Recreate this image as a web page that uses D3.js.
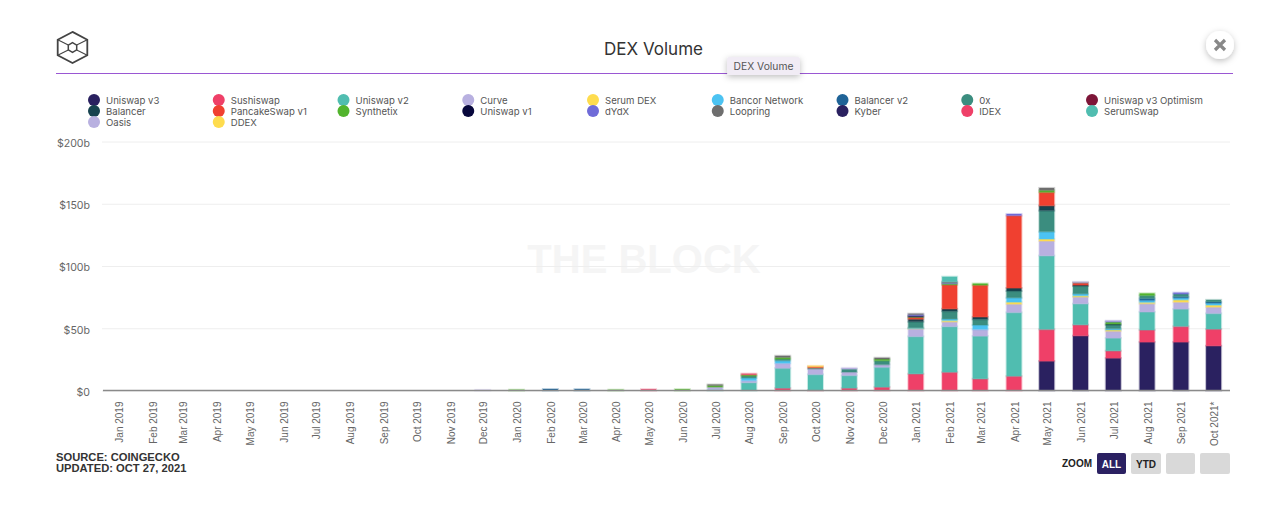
<!DOCTYPE html>
<html>
<head>
<meta charset="utf-8">
<script src="https://cdn.jsdelivr.net/npm/d3@7"></script>
<style>
  html, body { margin: 0; padding: 0; background: #fff; overflow: hidden; }
  text { font-family: Inter, "Noto Sans", sans-serif; }
  .tick-label { font-family: "Liberation Sans", sans-serif; font-size: 10px; fill: #666; }
  .y-label { font-family: Inter, "Noto Sans", sans-serif; font-size: 10.6px; fill: #666; }
  .legend-label { font-size: 9.6px; fill: #555; }
  .foot { font-family: "Liberation Sans", sans-serif; font-size: 11.2px; font-weight: bold; fill: #333; }
  .domain { display: none; }
</style>
</head>
<body>
<div id="chart"></div>
<script>
// 1: DATA (billions of USD)
const tickLabels = [
  "Jan 2019","Feb 2019","Mar 2019","Apr 2019","May 2019","Jun 2019","Jul 2019","Aug 2019","Sep 2019","Oct 2019","Nov 2019","Dec 2019",
  "Jan 2020","Feb 2020","Mar 2020","Apr 2020","May 2020","Jun 2020","Jul 2020","Aug 2020","Sep 2020","Oct 2020","Nov 2020","Dec 2020",
  "Jan 2021","Feb 2021","Mar 2021","Apr 2021","May 2021","Jun 2021","Jul 2021","Aug 2021","Sep 2021","Oct 2021*"
];
const seriesNames = [
  "Uniswap v3","Sushiswap","Uniswap v2","Curve","Serum DEX","Bancor Network","Balancer v2","0x","Uniswap v3 Optimism",
  "Balancer","PancakeSwap v1","Synthetix","Uniswap v1","dYdX","Loopring","Kyber","IDEX","SerumSwap",
  "Oasis","DDEX"
];
const seriesColors = [
  "#2a2160","#ef4068","#50bdb0","#b8b0e0","#fedc4e","#4cc3f2","#1f6397","#3b8d7f","#7d1538",
  "#17434f","#f04030","#52b42d","#07073c","#6f6bd8","#6e6e6e","#2a2160","#ef4068","#50bdb0",
  "#b8b0e0","#fedc4e"
];
const yTicks = [0, 50, 100, 150, 200];

const uniswapV3 = [0,0,0,0,0,0,0,0,0,0,0,0, 0,0,0,0,0,0,0,0,0,0,0,0, 0,0,0,0,23.6,44,26,38.9,38.9,35.9];
const sushiswap = [0,0,0,0,0,0,0,0,0,0,0,0, 0,0,0,0,0,0,0,0,1.9,0.3,1.9,2.7, 13.4,14.7,9.4,11.5,25.5,8.8,5.9,9.7,12.6,13.4];
const uniswapV2 = [0,0,0,0,0,0,0,0,0,0,0,0, 0,0,0,0,0,0,0.8,6.4,16,12.6,10.2,16, 30,36.7,34.3,51.2,59.2,16.9,10.2,14.5,13.9,12.6];
const curve = [0,0,0,0,0,0,0,0,0,0,0,0.5, 0,0,0,0,0,0,2,1.6,4,4.6,2.7,2.1, 6.2,3.8,5.4,6.7,11.8,5.4,5.6,6.7,5.6,5.1];
const serumDex = [0,0,0,0,0,0,0,0,0,0,0,0, 0,0,0,0,0,0,0,0,0,0,0,0, 0.3,1,0,1.6,1.6,1,1,1,1.9,1.6];
const bancor = [0,0,0,0,0,0,0,0,0,0,0,0, 0,0,0,0,0,0,0,2.1,2.1,0,0,0, 0.5,1.3,3.5,3.5,5.9,1.6,1,1.6,1.6,1.6];
const balancerV2 = [0,0,0,0,0,0,0,0,0,0,0,0, 0,1.2,1.1,0,0,0,0,0,0,0,0,0, 0,0,0,0,0,0,0,1.6,1,1];
const zeroX = [0,0,0,0,0,0,0,0,0,0,0,0, 0,0,0,0,0,0,0,1.6,1.3,0.8,2.4,3.2, 4.9,6.2,4.6,5.4,16.9,6.2,3,2.4,2.1,1.6];
const uniswapV3Optimism = [0,0,0,0,0,0,0,0,0,0,0,0, 0,0,0,0,0,0,0,0,0,0,0,0, 0,0,0,0,0,0,0,0,0,0];
const balancer = [0,0,0,0,0,0,0,0,0,0,0,0, 0,0,0,0,0,0,0,0,0,0,0,0, 2,1.9,1.9,2.4,4,0.8,0.8,0,0,0];
const pancakeSwap = [0,0,0,0,0,0,0,0,0,0,0,0, 0,0,0,0,0,0,0,0,0,0.9,0,0, 1.5,19.3,25.5,58.2,10.7,1.6,0,0,0,0];
const synthetix = [0,0,0,0,0,0,0,0,0,0,0,0, 0.6,0,0,0.6,0,1,1.2,1,1.3,0,0,1.3, 0.5,1,1.3,0,1.6,0,1.6,1.6,0,0];
const uniswapV1 = [0,0,0,0,0,0,0,0,0,0,0,0, 0,0,0,0,0,0,0,0,0,0,0,0, 0.7,0,0,0,0,0,0,0,0,0];
const dydx = [0,0,0,0,0,0,0,0,0,0,0,0, 0,0,0,0,0,0,0,0,0,0,0,0, 1,0.7,0,1.3,0,0,0.5,0,1,0];
const loopring = [0,0,0,0,0,0,0,0,0,0,0,0, 0,0,0,0,0,0,0.8,0,1.3,0,0,1, 0.7,0.8,0,0,1.9,0.5,0,0,0,0];
const kyber = [0,0,0,0,0,0,0,0,0,0,0,0, 0,0,0,0,0,0,0,0,0,0,0,0, 0,0,0,0,0,0,0,0,0,0];
const idex = [0,0,0,0,0,0,0,0,0,0,0,0, 0,0,0,0,1,0,0,0.8,0,0,0,0, 0,0,0,0,0,0,0,0,0,0];
const serumSwap = [0,0,0,0,0,0,0,0,0,0,0,0, 0,0,0,0,0,0,0,0,0,0,0,0, 0,4,0,0,0,0,0,0,0,0];
const oasis = [0,0,0,0,0,0,0,0,0,0,0,0, 0,0,0,0,0,0,0,0,0,0,1,0, 0,0,0,0,0,0.5,0.5,0,0,0];
const ddex = [0,0,0,0,0,0,0,0,0,0,0,0, 0,0,0,0,0,0,0,0,0,0.6,0,0, 0,0,0,0,0,0,0,0,0,0];

const seriesValues = [uniswapV3, sushiswap, uniswapV2, curve, serumDex, bancor, balancerV2, zeroX, uniswapV3Optimism,
  balancer, pancakeSwap, synthetix, uniswapV1, dydx, loopring, kyber, idex, serumSwap, oasis, ddex];

// one date per tick label, months counted from Jan 2019
const dates = tickLabels.map((d, i) => new Date(2019, i, 1));
const table = dates.map((date, i) => {
  const row = { date };
  seriesNames.forEach((name, s) => { row[name] = seriesValues[s][i]; });
  return row;
});

// 2: SVG
const width = 1280, height = 527;
const svg = d3.select("#chart").append("svg")
  .attr("width", width)
  .attr("height", height)
  .style("display", "block");

const defs = svg.append("defs");
const shadow = defs.append("filter").attr("id", "shadow")
  .attr("x", "-50%").attr("y", "-50%").attr("width", "200%").attr("height", "200%");
shadow.append("feDropShadow").attr("dx", 0).attr("dy", 2).attr("stdDeviation", 3)
  .attr("flood-color", "#000").attr("flood-opacity", 0.25);

// 3: SCALES (time scale because the months are not evenly spaced in the original)
const x = d3.scaleTime()
  .domain([new Date(2018, 11, 17), new Date(2021, 9, 16)])
  .range([102, 1230]);
const y = d3.scaleLinear().domain([0, 200]).range([390.5, 141.5]);
const barWidth = 15;

// watermark sits under the grid
svg.append("text")
  .attr("x", 644).attr("y", 272.5)
  .attr("text-anchor", "middle")
  .style("font-family", "'Liberation Sans', sans-serif")
  .style("font-size", "40px").style("font-weight", "bold")
  .style("fill", "#f5f5f5")
  .text("THE BLOCK");

// 4: AXES
const yAxis = svg.append("g")
  .attr("transform", "translate(102,0)")
  .call(d3.axisLeft(y).tickValues(yTicks).tickSize(-1128).tickPadding(12).tickFormat(d => d === 0 ? "$0" : `$${d}b`));
yAxis.selectAll("line").attr("stroke", "#eeeeee").attr("stroke-width", 1);
yAxis.selectAll("text").attr("class", "y-label").attr("dy", "0.45em");

const xAxis = svg.append("g")
  .attr("transform", `translate(0,${y(0)})`)
  .call(d3.axisBottom(x).tickValues(dates).tickSize(0).tickFormat((d, i) => tickLabels[i]));
xAxis.selectAll("text")
  .attr("class", "tick-label")
  .attr("transform", "rotate(-90)")
  .attr("text-anchor", "end")
  .attr("x", -11)
  .attr("y", 0.5)
  .attr("dy", "0.35em");

// 5: BARS
const stacked = d3.stack().keys(seriesNames)(table);
svg.append("g").selectAll("g")
  .data(stacked)
  .join("g")
  .attr("fill", (d, i) => seriesColors[i])
  .attr("stroke", (d, i) => seriesColors[i])
  .selectAll("rect")
  .data(d => d.filter(v => v[1] > v[0]))
  .join("rect")
  .attr("x", d => x(d.data.date) - barWidth / 2)
  .attr("y", d => y(d[1]))
  .attr("width", barWidth)
  .attr("height", d => y(d[0]) - y(d[1]))
  .attr("stroke-width", 2)
  .attr("stroke-opacity", 0.3);

// baseline goes over the bars
svg.append("line")
  .attr("x1", 103).attr("x2", 1230)
  .attr("y1", y(0)).attr("y2", y(0))
  .attr("stroke", "#8a8a8a").attr("stroke-width", 1.5);

// 6: HEADER
svg.append("text")
  .attr("x", 653.5).attr("y", 55)
  .attr("text-anchor", "middle")
  .style("font-size", "17px")
  .style("fill", "#333")
  .text("DEX Volume");

svg.append("line")
  .attr("x1", 56).attr("x2", 1233)
  .attr("y1", 73.5).attr("y2", 73.5)
  .attr("stroke", "#9a57d3").attr("stroke-width", 1);

// logo
const logo = svg.append("g")
  .attr("transform", "translate(72.5,47.5)")
  .attr("fill", "none").attr("stroke", "#444").attr("stroke-width", 1.5);
const hexagon = (rx, ry) => d3.range(6).map(k => {
  const a = Math.PI / 3 * k - Math.PI / 2;
  return [rx * Math.cos(a) / Math.cos(Math.PI / 6), ry * Math.sin(a)];
});
const outerHex = hexagon(14.8, 15.6);
const innerHex = hexagon(4.2, 4.8);
logo.append("path").attr("d", d3.line().curve(d3.curveLinearClosed)(outerHex)).attr("stroke-width", 1.8);
logo.append("path").attr("d", d3.line().curve(d3.curveLinearClosed)(innerHex));
[1, 2, 4, 5].forEach(k => {
  logo.append("line")
    .attr("stroke-width", 1.1)
    .attr("x1", outerHex[k][0]).attr("y1", outerHex[k][1])
    .attr("x2", innerHex[k][0]).attr("y2", innerHex[k][1]);
});

// tooltip
const tip = svg.append("g").attr("transform", "translate(727,57)");
tip.append("rect")
  .attr("width", 73).attr("height", 18).attr("rx", 2)
  .attr("fill", "#f1ecf5").attr("filter", "url(#shadow)");
tip.append("text")
  .attr("x", 36.5).attr("y", 12.5)
  .attr("text-anchor", "middle")
  .style("font-size", "10.3px").style("fill", "#555")
  .text("DEX Volume");

// close button
const close = svg.append("g").attr("transform", "translate(1220,45)");
close.append("circle").attr("r", 14).attr("fill", "#fff").attr("filter", "url(#shadow)");
close.append("path")
  .attr("d", "M-5,-5L5,5M5,-5L-5,5")
  .attr("stroke", "#888").attr("stroke-width", 3.2).attr("fill", "none");

// 7: LEGEND, nine columns across
const legendX = d3.scalePoint().domain(d3.range(9)).range([94, 1092]);
const legend = svg.append("g").selectAll("g")
  .data(seriesNames)
  .join("g")
  .attr("transform", (d, i) => `translate(${legendX(i % 9)},${100 + Math.floor(i / 9) * 11})`);
legend.append("circle").attr("r", 6).attr("fill", (d, i) => seriesColors[i]);
legend.append("text")
  .attr("class", "legend-label")
  .attr("x", 12).attr("y", 3.5)
  .text(d => d);

// 8: FOOTER
svg.append("text").attr("class", "foot").attr("x", 56).attr("y", 461).text("SOURCE: COINGECKO");
svg.append("text").attr("class", "foot").attr("x", 56).attr("y", 472).text("UPDATED: OCT 27, 2021");

svg.append("text")
  .attr("x", 1092).attr("y", 467)
  .attr("text-anchor", "end")
  .style("font-family", "'Liberation Sans', sans-serif")
  .style("font-size", "10px").style("font-weight", "bold").style("fill", "#222")
  .text("ZOOM");

const zoomButtons = [
  { label: "ALL", x: 1097, w: 29, fill: "#2b2162", color: "#fff" },
  { label: "YTD", x: 1131, w: 30, fill: "#d9d9d9", color: "#222" },
  { label: "", x: 1166, w: 29, fill: "#d9d9d9", color: "#222" },
  { label: "", x: 1200, w: 30, fill: "#d9d9d9", color: "#222" }
];
const btn = svg.append("g").selectAll("g").data(zoomButtons).join("g")
  .attr("transform", d => `translate(${d.x},453)`);
btn.append("rect")
  .attr("width", d => d.w).attr("height", 21).attr("rx", 2)
  .attr("fill", d => d.fill);
btn.append("text")
  .attr("x", d => d.w / 2).attr("y", 14.5)
  .attr("text-anchor", "middle")
  .style("font-family", "'Liberation Sans', sans-serif")
  .style("font-size", "10px").style("font-weight", "bold")
  .style("fill", d => d.color)
  .text(d => d.label);
</script>
</body>
</html>
